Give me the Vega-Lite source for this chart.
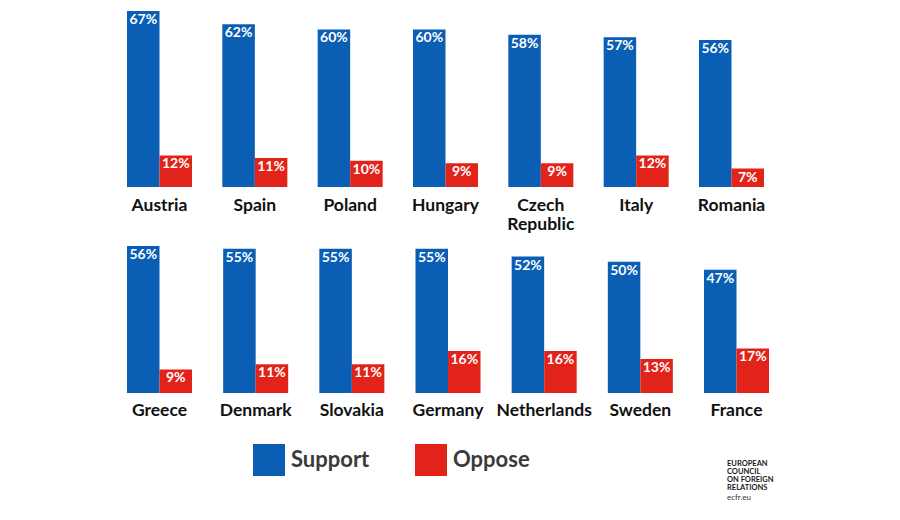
{
  "$schema": "https://vega.github.io/schema/vega-lite/v6.json",
  "background": "white",
  "padding": {"left": 127, "top": 11, "right": 5, "bottom": 5},
  "title": {
    "text": ["EUROPEAN", "COUNCIL", "ON FOREIGN", "RELATIONS"],
    "subtitle": "ecfr.eu",
    "orient": "bottom", "anchor": "end", "frame": "bounds", "align": "left",
    "dx": -42, "dy": -16, "offset": 0,
    "font": "Lato", "fontSize": 7.5, "fontWeight": "bold", "color": "#1a1a1a", "lineHeight": 8,
    "subtitleFont": "Lato", "subtitleFontSize": 8, "subtitleColor": "#333333", "subtitlePadding": 2, "subtitleLineHeight": 8.5
  },
  "data": {"values": [
    {"country": "Austria", "row": 1, "series": "Support", "value": 67},
    {"country": "Austria", "row": 1, "series": "Oppose", "value": 12},
    {"country": "Spain", "row": 1, "series": "Support", "value": 62},
    {"country": "Spain", "row": 1, "series": "Oppose", "value": 11},
    {"country": "Poland", "row": 1, "series": "Support", "value": 60},
    {"country": "Poland", "row": 1, "series": "Oppose", "value": 10},
    {"country": "Hungary", "row": 1, "series": "Support", "value": 60},
    {"country": "Hungary", "row": 1, "series": "Oppose", "value": 9},
    {"country": "Czech Republic", "row": 1, "series": "Support", "value": 58},
    {"country": "Czech Republic", "row": 1, "series": "Oppose", "value": 9},
    {"country": "Italy", "row": 1, "series": "Support", "value": 57},
    {"country": "Italy", "row": 1, "series": "Oppose", "value": 12},
    {"country": "Romania", "row": 1, "series": "Support", "value": 56},
    {"country": "Romania", "row": 1, "series": "Oppose", "value": 7},
    {"country": "Greece", "row": 2, "series": "Support", "value": 56},
    {"country": "Greece", "row": 2, "series": "Oppose", "value": 9},
    {"country": "Denmark", "row": 2, "series": "Support", "value": 55},
    {"country": "Denmark", "row": 2, "series": "Oppose", "value": 11},
    {"country": "Slovakia", "row": 2, "series": "Support", "value": 55},
    {"country": "Slovakia", "row": 2, "series": "Oppose", "value": 11},
    {"country": "Germany", "row": 2, "series": "Support", "value": 55},
    {"country": "Germany", "row": 2, "series": "Oppose", "value": 16},
    {"country": "Netherlands", "row": 2, "series": "Support", "value": 52},
    {"country": "Netherlands", "row": 2, "series": "Oppose", "value": 16},
    {"country": "Sweden", "row": 2, "series": "Support", "value": 50},
    {"country": "Sweden", "row": 2, "series": "Oppose", "value": 13},
    {"country": "France", "row": 2, "series": "Support", "value": 47},
    {"country": "France", "row": 2, "series": "Oppose", "value": 17}
  ]},
  "transform": [{"calculate": "datum.value + '%'", "as": "label"}],
  "spacing": 13,
  "vconcat": [
    {
      "width": 637,
      "height": 176,
      "transform": [{"filter": "datum.row == 1"}],
      "encoding": {
        "x": {
          "field": "country", "type": "nominal",
          "sort": ["Austria", "Spain", "Poland", "Hungary", "Czech Republic", "Italy", "Romania"],
          "scale": {"paddingInner": 0.318, "paddingOuter": 0},
          "axis": {
            "title": null, "domain": false, "ticks": false, "labelAngle": 0,
            "labelFont": "Lato", "labelFontSize": 17.5, "labelFontWeight": "bold", "labelColor": "#111111",
            "labelBaseline": "middle", "labelPadding": 18, "labelLimit": 0, "labelLineHeight": 19,
            "labelExpr": "datum.value == 'Czech Republic' ? ['Czech', 'Republic'] : datum.value"
          }
        },
        "xOffset": {"field": "series", "type": "nominal", "sort": ["Support", "Oppose"]},
        "y": {"field": "value", "type": "quantitative", "scale": {"domain": [0, 67], "nice": false}, "axis": null}
      },
      "layer": [
        {
          "mark": {"type": "bar"},
          "encoding": {
            "color": {"field": "series", "type": "nominal",
              "scale": {"domain": ["Support", "Oppose"], "range": ["#0A5EB4", "#E2231A"]},
              "legend": {
                "title": null, "orient": "none", "direction": "horizontal", "legendX": 126, "legendY": 433,
                "symbolType": "square", "symbolSize": 1024, "symbolStrokeWidth": 0, "symbolOpacity": 1,
                "labelFont": "Lato", "labelFontSize": 22, "labelFontWeight": "bold", "labelColor": "#3a3a3a",
                "labelOffset": 6, "columnPadding": 45, "padding": 0
              }
            }
          }
        },
        {
          "mark": {"type": "text", "baseline": "top", "dy": 2, "color": "white", "font": "Lato", "fontWeight": "bold", "fontSize": 14},
          "encoding": {"text": {"field": "label"}}
        }
      ]
    },
    {
      "width": 642,
      "height": 147,
      "transform": [{"filter": "datum.row == 2"}],
      "encoding": {
        "x": {
          "field": "country", "type": "nominal",
          "sort": ["Greece", "Denmark", "Slovakia", "Germany", "Netherlands", "Sweden", "France"],
          "scale": {"paddingInner": 0.324, "paddingOuter": 0},
          "axis": {
            "title": null, "domain": false, "ticks": false, "labelAngle": 0,
            "labelFont": "Lato", "labelFontSize": 17.5, "labelFontWeight": "bold", "labelColor": "#111111",
            "labelBaseline": "middle", "labelPadding": 17, "labelLimit": 0
          }
        },
        "xOffset": {"field": "series", "type": "nominal", "sort": ["Support", "Oppose"]},
        "y": {"field": "value", "type": "quantitative", "scale": {"domain": [0, 56], "nice": false}, "axis": null}
      },
      "layer": [
        {
          "mark": {"type": "bar"},
          "encoding": {
            "color": {"field": "series", "type": "nominal",
              "scale": {"domain": ["Support", "Oppose"], "range": ["#0A5EB4", "#E2231A"]}
            }
          }
        },
        {
          "mark": {"type": "text", "baseline": "top", "dy": 2, "color": "white", "font": "Lato", "fontWeight": "bold", "fontSize": 14},
          "encoding": {"text": {"field": "label"}}
        }
      ]
    }
  ],
  "config": {"view": {"stroke": null}, "font": "Lato"}
}
